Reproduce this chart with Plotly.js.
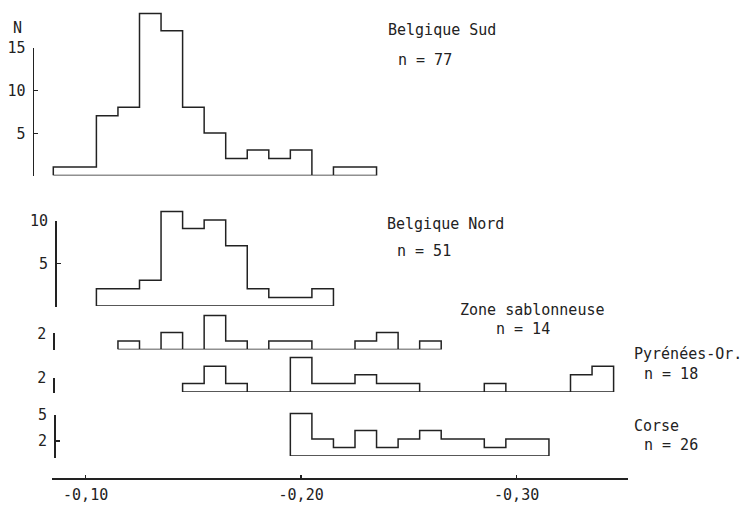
<!DOCTYPE html>
<html>
<head>
<meta charset="utf-8">
<script src="https://cdn.plot.ly/plotly-3.0.1.min.js"></script>
<style>html,body{margin:0;padding:0;background:#fff;}#chart{width:742px;height:505px;}</style>
</head>
<body>
<div id="chart"></div>
<script>
// ---- data (bin centres in the x unit, counts per bin) ----
const binWidth = 0.01;
const sudCentres   = [-0.09,-0.10,-0.11,-0.12,-0.13,-0.14,-0.15,-0.16,-0.17,-0.18,-0.19,-0.20,-0.21,-0.22,-0.23];
const sudCounts    = [1,1,7,8,19,17,8,5,2,3,2,3,0,1,1];
const nordCentres  = [-0.11,-0.12,-0.13,-0.14,-0.15,-0.16,-0.17,-0.18,-0.19,-0.20,-0.21];
const nordCounts   = [2,2,3,11,9,10,7,2,1,1,2];
const zoneCentres  = [-0.12,-0.13,-0.14,-0.15,-0.16,-0.17,-0.18,-0.19,-0.20,-0.21,-0.22,-0.23,-0.24,-0.25,-0.26];
const zoneCounts   = [1,0,2,0,4,1,0,1,1,0,0,1,2,0,1];
const pyrCentres   = [-0.15,-0.16,-0.17,-0.18,-0.19,-0.20,-0.21,-0.22,-0.23,-0.24,-0.25,-0.26,-0.27,-0.28,-0.29,-0.30,-0.31,-0.32,-0.33,-0.34];
const pyrCounts    = [1,3,1,0,0,4,1,1,2,1,1,0,0,0,1,0,0,0,2,3];
const corseCentres = [-0.20,-0.21,-0.22,-0.23,-0.24,-0.25,-0.26,-0.27,-0.28,-0.29,-0.30,-0.31];
const corseCounts  = [5,2,1,3,1,2,3,2,2,1,2,2];
const seriesNames  = ["Belgique Sud","Belgique Nord","Zone sablonneuse","Pyrénées-Or.","Corse"];
const seriesN      = [77,51,14,18,26];
const xTickVals    = [-0.10,-0.20,-0.30];
const xTickText    = ["-0,10","-0,20","-0,30"];

// ---- layout helpers (pixel -> paper) ----
const W = 742, PB = 478;
const px = x => x / W;
const py = y => (PB - y) / PB;
const FONT = "DejaVu Sans Mono";
const INK = "#222";

function outline(centres, counts) {
  const left = centres.map(c => c + binWidth / 2);
  const right = centres.map(c => c - binWidth / 2);
  const n = centres.length;
  const xs = [left[0], left[0]];
  const ys = [0, counts[0]];
  for (let i = 1; i < n; i++) { xs.push(left[i]); ys.push(counts[i]); }
  xs.push(right[n - 1]); ys.push(0);
  xs.push(left[0]); ys.push(0);
  return {xs, ys};
}

const allSeries = [
  [sudCentres, sudCounts],
  [nordCentres, nordCounts],
  [zoneCentres, zoneCounts],
  [pyrCentres, pyrCounts],
  [corseCentres, corseCounts]
];

const traces = allSeries.map((s, i) => {
  const o = outline(s[0], s[1]);
  return {
    type: "scatter", mode: "lines", x: o.xs, y: o.ys,
    xaxis: "x", yaxis: i === 0 ? "y" : "y" + (i + 1),
    line: {shape: "hv", color: INK, width: 1.5},
    name: seriesNames[i], showlegend: false, hoverinfo: "skip"
  };
});
// empty traces so the decorative scale axes are drawn
for (let i = 6; i <= 10; i++) {
  traces.push({type: "scatter", mode: "lines", x: [null], y: [null], xaxis: "x", yaxis: "y" + i, showlegend: false, hoverinfo: "skip"});
}

// data axes: [baseline px, px per unit, max]
const dataAxes = [
  [175.5, 8.52, 20],
  [306.0, 8.6, 12],
  [349.5, 8.5, 5],
  [392.0, 8.6, 5],
  [456.0, 8.5, 6]
];
// scale axes: [bottom px, top px, range max, position px, tickvals, ticktext]
const scaleAxes = [
  [176.0, 48.0, 15, 32.5, [0,5,10,15], ["","5","10","15"]],
  [306.7, 220.7, 10, 55.0, [0,5,10], ["","5","10"]],
  [350.0, 333.3, 2, 53.3, [0,2], ["","2"]],
  [393.3, 378.0, 2, 53.3, [0,2], ["","2"]],
  [458.3, 415.0, 5, 54.0, [0,2,5], ["","2","5"]]
];

const layout = {
  width: 742, height: 505,
  margin: {l: 0, r: 0, t: 0, b: 27},
  paper_bgcolor: "#fff", plot_bgcolor: "rgba(0,0,0,0)",
  font: {family: FONT, size: 15, color: INK},
  showlegend: false,
  xaxis: {
    domain: [px(52), px(628)],
    range: [-0.085 + 1.3 / 2155, -0.085 - 574.7 / 2155],
    anchor: "free", position: 0,
    showline: true, linecolor: INK, linewidth: 1.5,
    showgrid: false, zeroline: false,
    ticks: "inside", ticklen: 3, tickwidth: 1.5, tickcolor: INK,
    tickvals: xTickVals, ticktext: xTickText,
    ticklabelstandoff: 2,
    tickfont: {family: FONT, size: 15, color: INK}
  },
  annotations: []
};

dataAxes.forEach((a, i) => {
  const key = i === 0 ? "yaxis" : "yaxis" + (i + 1);
  const top = a[0] - a[1] * a[2];
  layout[key] = {
    domain: [py(a[0]), py(top)], range: [0, a[2]],
    anchor: "free", position: px(52), visible: false,
    showgrid: false, zeroline: false
  };
});
scaleAxes.forEach((a, i) => {
  layout["yaxis" + (i + 6)] = {
    domain: [py(a[0]), py(a[1])], range: [0, a[2]],
    anchor: "free", position: px(a[3]),
    showline: true, linecolor: INK, linewidth: 1.5,
    showgrid: false, zeroline: false,
    ticks: "inside", ticklen: 4, tickwidth: 1.5, tickcolor: INK,
    tickvals: a[4], ticktext: a[5],
    ticklabelstandoff: 4,
    tickfont: {family: FONT, size: 15, color: INK}
  };
});

// labels: [text, x px, y px]
const labels = [
  ["N", 10.5, 28],
  [seriesNames[0], 386, 30], ["n = " + seriesN[0], 395.5, 60],
  [seriesNames[1], 385, 223.5], ["n = " + seriesN[1], 395, 251],
  [seriesNames[2], 458, 309.5], ["n = " + seriesN[2], 494, 328.5],
  [seriesNames[3], 632, 353.5], ["n = " + seriesN[3], 641.5, 373.5],
  [seriesNames[4], 632, 425.5], ["n = " + seriesN[4], 641.5, 444.5]
];
labels.forEach(l => {
  layout.annotations.push({
    text: l[0], x: px(l[1]), y: py(l[2]), xref: "paper", yref: "paper",
    xanchor: "left", yanchor: "middle", showarrow: false,
    font: {family: FONT, size: 15, color: INK}
  });
});

Plotly.newPlot("chart", traces, layout, {displayModeBar: false, staticPlot: true});
</script>
</body>
</html>
